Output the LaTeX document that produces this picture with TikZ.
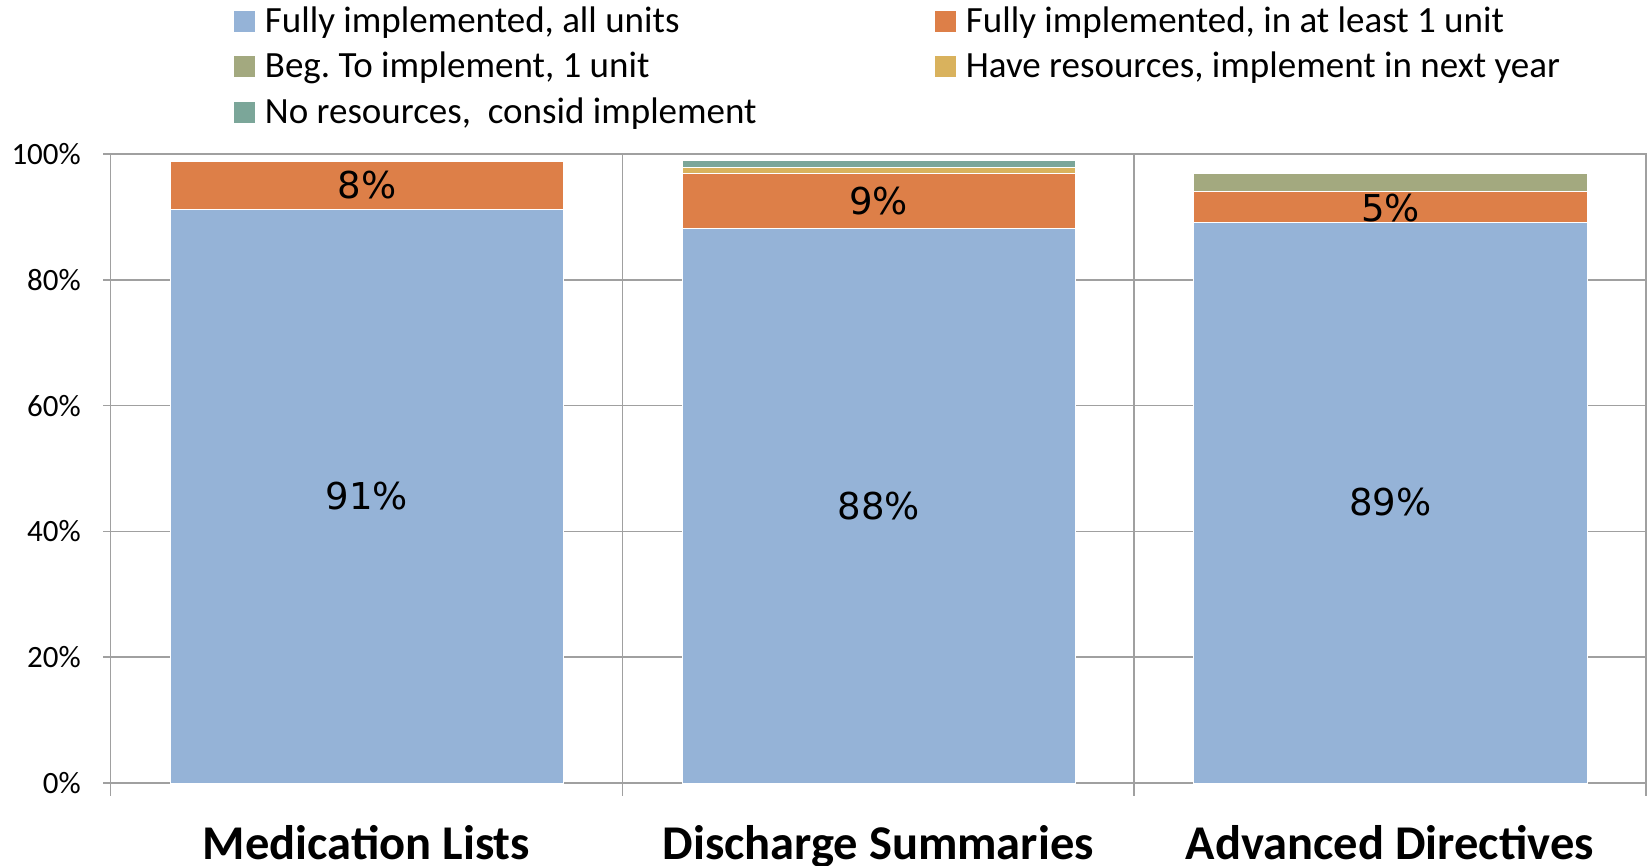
\documentclass[tikz,border=0pt]{standalone}
\usepackage{fontspec}
\setmainfont{Carlito}
\newfontfamily\valfont{DejaVu Sans}
\usetikzlibrary{positioning}
\frenchspacing

\definecolor{allunits}{HTML}{95B3D7}
\definecolor{oneunit}{HTML}{DD7F48}
\definecolor{begunit}{HTML}{A3A97F}
\definecolor{nextyear}{HTML}{D9B25D}
\definecolor{noresources}{HTML}{7BA699}
\definecolor{gridgray}{HTML}{A0A0A0}

\begin{document}
\begin{tikzpicture}
[x=1pt,y=-1pt,
  grid/.style={draw=gridgray,line width=1.6pt},
  seg/.style={draw=white,line width=0.5pt},
  legbox/.style={shape=rectangle,minimum size=21pt,inner sep=0pt},
  legtext/.style={font=\fontsize{37}{41}\selectfont,inner sep=0pt},
  ticklabel/.style={anchor=east,font=\fontsize{31}{35}\selectfont,inner sep=0pt},
  catlabel/.style={anchor=base,font=\fontsize{48.5}{53}\selectfont\bfseries,inner sep=0pt},
  pct/.style={font=\valfont\fontsize{37}{42}\selectfont,inner sep=0pt}]

\useasboundingbox (0,0) rectangle (1649,866);

% gridlines and y axis labels
\foreach \p in {0,20,40,60,80,100}
  {\draw[grid] (103,{783-6.29*\p}) -- (1646,{783-6.29*\p});
   \node[ticklabel] (tick\p) at (81,{783-6.29*\p}) {\p\%};}
\foreach \x in {110.4,622.6,1133.7,1646}
  \draw[grid] (\x,153.5) -- (\x,796);

% bars
\draw[seg,fill=allunits] (170.4,783) rectangle (563.7,209.3);
\draw[seg,fill=oneunit] (170.4,209.3) rectangle (563.7,160.9);

\draw[seg,fill=allunits] (682.6,783) rectangle (1074.8,228.2);
\draw[seg,fill=oneunit] (682.6,228.2) rectangle (1074.8,173.5);
\draw[seg,fill=nextyear] (682.6,173.5) rectangle (1074.8,167.2);
\draw[seg,fill=noresources] (682.6,167.2) rectangle (1074.8,159.9);

\draw[seg,fill=allunits] (1193.7,783) rectangle (1587,222);
\draw[seg,fill=oneunit] (1193.7,222) rectangle (1587,191.7);
\draw[seg,fill=begunit] (1193.7,191.7) rectangle (1587,173);

% values
\node[pct] (v1a) at (367,496) {91\%};
\node[pct] (v1b) at (367,185) {8\%};
\node[pct] (v2a) at (878.7,505.6) {88\%};
\node[pct] (v2b) at (878.7,200.9) {9\%};
\node[pct] (v3a) at (1390.4,502.5) {89\%};
\node[pct] (v3b) at (1390.4,208) {5\%};

% categories
\node[catlabel] (cat1) at (366.5,859) {Medication Lists};
\node[catlabel] (cat2) at (878.2,859) {Discharge Summaries};
\node[catlabel] (cat3) at (1389.9,859) {Advanced Directives};

% legend
\node[legbox,fill=allunits] (lb1) at (244,22) {};
\node[legbox,fill=begunit] (lb2) at (244,67) {};
\node[legbox,fill=noresources] (lb3) at (244,112.5) {};
\node[legbox,fill=oneunit] (lb4) at (945,22) {};
\node[legbox,fill=nextyear] (lb5) at (945,67) {};
\node[legtext,right=10pt of lb1.south east,anchor=base west] (lt1) {Fully implemented, all units};
\node[legtext,right=10pt of lb2.south east,anchor=base west] (lt2) {Beg. To implement, 1 unit};
\node[legtext,right=10pt of lb3.south east,anchor=base west] (lt3) {No resources,\ \ consid implement};
\node[legtext,right=10pt of lb4.south east,anchor=base west] (lt4) {Fully implemented, in at least 1 unit};
\node[legtext,right=10pt of lb5.south east,anchor=base west] (lt5) {Have resources, implement in next year};
\end{tikzpicture}
\end{document}
